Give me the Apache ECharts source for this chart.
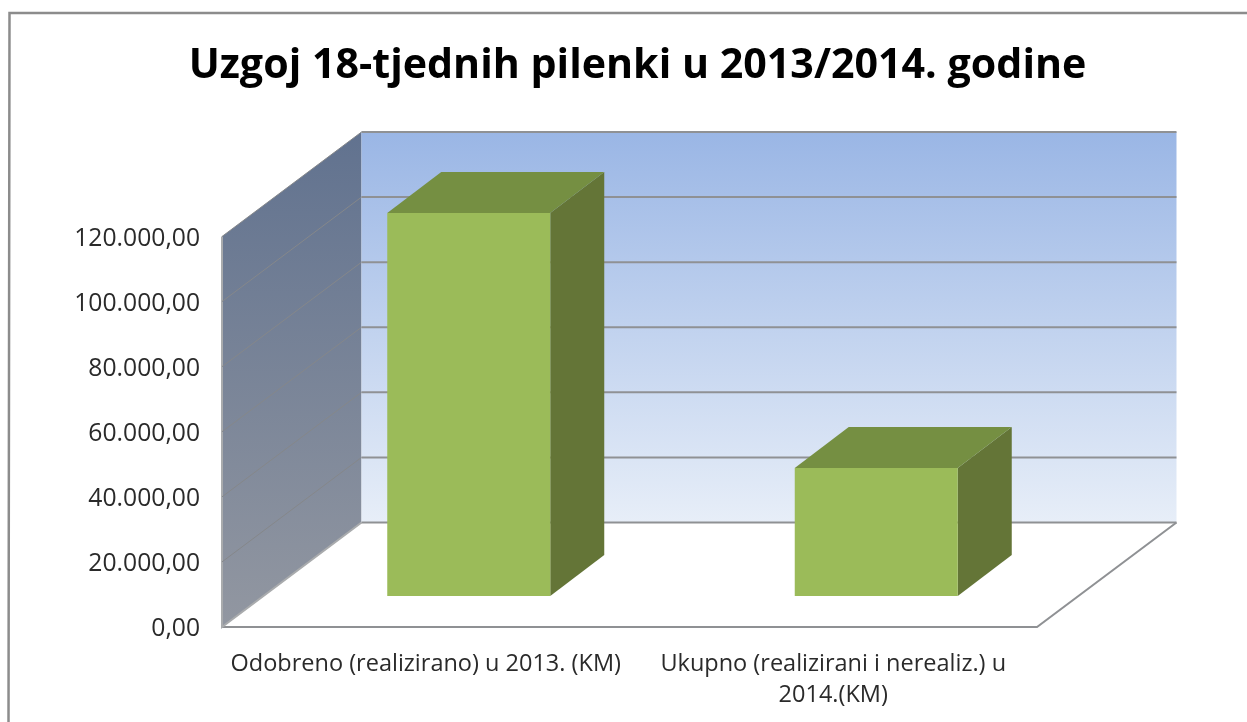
<!DOCTYPE html>
<html><head><meta charset="utf-8">
<style>html,body{margin:0;padding:0;background:#fff}#c{width:1247px;height:722px}</style>
<script src="https://cdn.jsdelivr.net/npm/echarts@6/dist/echarts.min.js"></script>
</head><body><div id="c"></div>
<script>
var titleText = 'Uzgoj 18-tjednih pilenki u 2013/2014. godine';
var categories = ['Odobreno (realizirano) u 2013. (KM)', 'Ukupno (realizirani i nerealiz.) u\n2014.(KM)'];
var values = [117700, 39300];
var ticks = [0, 20000, 40000, 60000, 80000, 100000, 120000];
var WALL_DX = 139.5, WALL_DY = -104.5, BAR_OFF_X = 41, BAR_OFF_Y = -31, BAR_DX = 54, BAR_DY = -41, BAR_W = 163;
var FONT = '"Open Sans", "Noto Sans", sans-serif';

function fmt(v){
  var s = String(v).replace(/\B(?=(\d{3})+$)/g, '.');
  return '{a|' + s + ',00}';
}
function poly(points, fill, stroke){
  return {type:'polygon', shape:{points:points}, style:{fill:fill, stroke:stroke||null, lineWidth:stroke?1:0}};
}
function grad(c0, c1){
  return new echarts.graphic.LinearGradient(0,0,0,1,[{offset:0,color:c0},{offset:1,color:c1}]);
}
var LINE = '#8f9194';

function renderWalls(params, api){
  var cs = params.coordSys;
  var L = cs.x, R = cs.x + cs.width, T = cs.y, B = cs.y + cs.height;
  var dx = WALL_DX, dy = WALL_DY;
  var kids = [];
  kids.push(poly([[L,T],[L+dx,T+dy],[L+dx,B+dy],[L,B]], grad('#61728f','#9297a1')));
  kids.push(poly([[L+dx,T+dy],[R+dx,T+dy],[R+dx,B+dy],[L+dx,B+dy]], grad('#9ab6e5','#e7eef8')));
  kids.push({type:'polyline', shape:{points:[[L,B],[R,B],[R+dx,B+dy]]}, style:{fill:null,stroke:LINE,lineWidth:2}});
  kids.push({type:'polyline', shape:{points:[[L,T],[L,B],[L+dx,B+dy]]}, style:{fill:null,stroke:'#a9abad',lineWidth:2}});
  ticks.forEach(function(t){
    var y = api.coord([0, t])[1];
    if (t > 0) kids.push({type:'polyline', shape:{points:[[L,y],[L+dx,y+dy]]}, style:{fill:null,stroke:'#85878a',lineWidth:1}});
    kids.push({type:'line', shape:{x1:L+dx,y1:y+dy,x2:R+dx,y2:y+dy}, style:{stroke:LINE,lineWidth:2}});
  });
  return {type:'group', children:kids};
}
function renderBar(params, api){
  var idx = api.value(0), v = api.value(1);
  var top = api.coord([idx, v]), base = api.coord([idx, 0]);
  var x0 = top[0] - BAR_W/2 + 2 + BAR_OFF_X, x1 = x0 + BAR_W;
  var yT = top[1] + BAR_OFF_Y, yB = base[1] + BAR_OFF_Y;
  return {type:'group', children:[
    poly([[x1,yT],[x1+BAR_DX,yT+BAR_DY],[x1+BAR_DX,yB+BAR_DY],[x1,yB]], '#647537'),
    poly([[x0,yT],[x0+BAR_DX,yT+BAR_DY],[x1+BAR_DX,yT+BAR_DY],[x1,yT]], '#758f42'),
    {type:'rect', shape:{x:x0,y:yT,width:BAR_W,height:yB-yT}, style:{fill:'#9bbb59'}}
  ]};
}

var chart = echarts.init(document.getElementById('c'), null, {renderer:'canvas'});
chart.setOption({
  animation:false,
  backgroundColor:'#ffffff',
  title:{text:titleText, left:632.5, top:41, textAlign:'center',
    textStyle:{fontFamily:FONT, fontWeight:'bold', fontSize:41.2, color:'#000000'}},
  graphic:[
    {type:'polyline', z:100, shape:{points:[[8.5,722],[9.5,13],[1247,13]]}, style:{fill:null,stroke:'#8c8c8c',lineWidth:2.5}}
  ],
  grid:{left:222, top:236.5, width:815, height:390.5, containLabel:false},
  xAxis:{type:'category', data:categories, boundaryGap:true,
    axisLine:{show:false}, axisTick:{show:false}, splitLine:{show:false},
    axisLabel:{interval:0, margin:22, lineHeight:31, fontFamily:FONT, fontSize:23.5, color:'#2a2a2a'}},
  yAxis:{type:'value', min:0, max:120000, interval:20000,
    axisLine:{show:false}, axisTick:{show:false}, splitLine:{show:false},
    axisLabel:{margin:22, formatter:fmt,
      rich:{a:{padding:[4,0,0,0], fontFamily:FONT, fontSize:24.7, color:'#2a2a2a'}}}},
  series:[
    {type:'custom', z:1, coordinateSystem:'cartesian2d', renderItem:renderWalls, data:[[0,0]], silent:true, clip:false},
    {type:'custom', z:2, coordinateSystem:'cartesian2d', renderItem:renderBar, encode:{x:0,y:1},
     data:values.map(function(v,i){return [i,v];}), clip:false}
  ]
});
</script></body></html>
